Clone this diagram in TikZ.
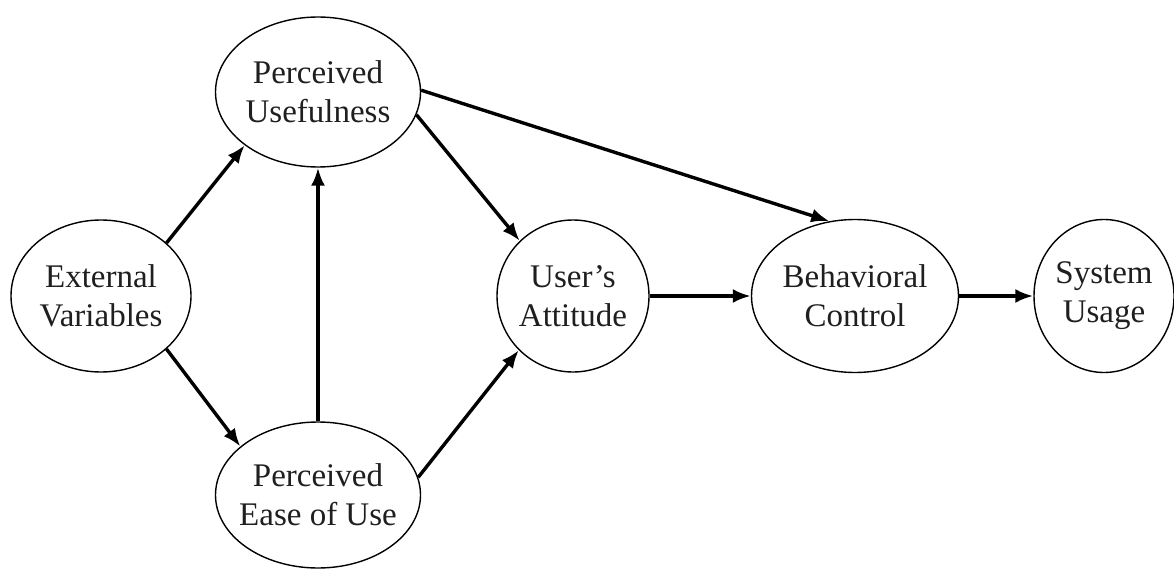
\documentclass[tikz,border=0pt]{standalone}
\usepackage{fontspec}
\setmainfont{Liberation Serif}
\usetikzlibrary{arrows.meta,shapes.geometric}
\begin{document}
\begin{tikzpicture}[x=1pt,y=-1pt,
  ell/.style={draw,ellipse,line width=1.4pt,inner sep=0pt},
  lab/.style={font=\fontsize{33}{39}\selectfont,align=center,text=black!88},
  arr/.style={line width=3.4pt,-{Latex[length=18pt,width=14pt]}}]
\useasboundingbox (0,0) rectangle (1174,569);
\node[ell,minimum width=180pt,minimum height=152pt,label={[lab]center:External\\Variables}] (ext) at (101,296) {};
\node[ell,minimum width=205pt,minimum height=150pt,label={[lab]center:Perceived\\Usefulness}] (pu) at (318,92) {};
\node[ell,minimum width=205pt,minimum height=146pt,label={[lab]center:Perceived\\Ease of Use}] (peou) at (318,495) {};
\node[ell,minimum width=152pt,minimum height=152pt,label={[lab]center:User’s\\Attitude}] (ua) at (573,296) {};
\node[ell,minimum width=207pt,minimum height=153pt,label={[lab]center:Behavioral\\Control}] (bc) at (855,296) {};
\node[ell,minimum width=140pt,minimum height=153pt,label={[lab]center:System\\Usage}] (su) at (1104,296) {};
\draw[arr] (ext.39) -- (pu.216);
\draw[arr] (ext.321) -- (peou.148);
\draw[arr] (peou.north) -- (pu.south);
\draw[arr] (pu.347) -- (ua.134);
\draw[arr] (peou.10) -- (ua.225);
\draw[arr] (pu.1) -- (bc.109);
\draw[arr] (ua.east) -- (bc.west);
\draw[arr] (bc.east) -- (su.west);
\end{tikzpicture}
\end{document}
